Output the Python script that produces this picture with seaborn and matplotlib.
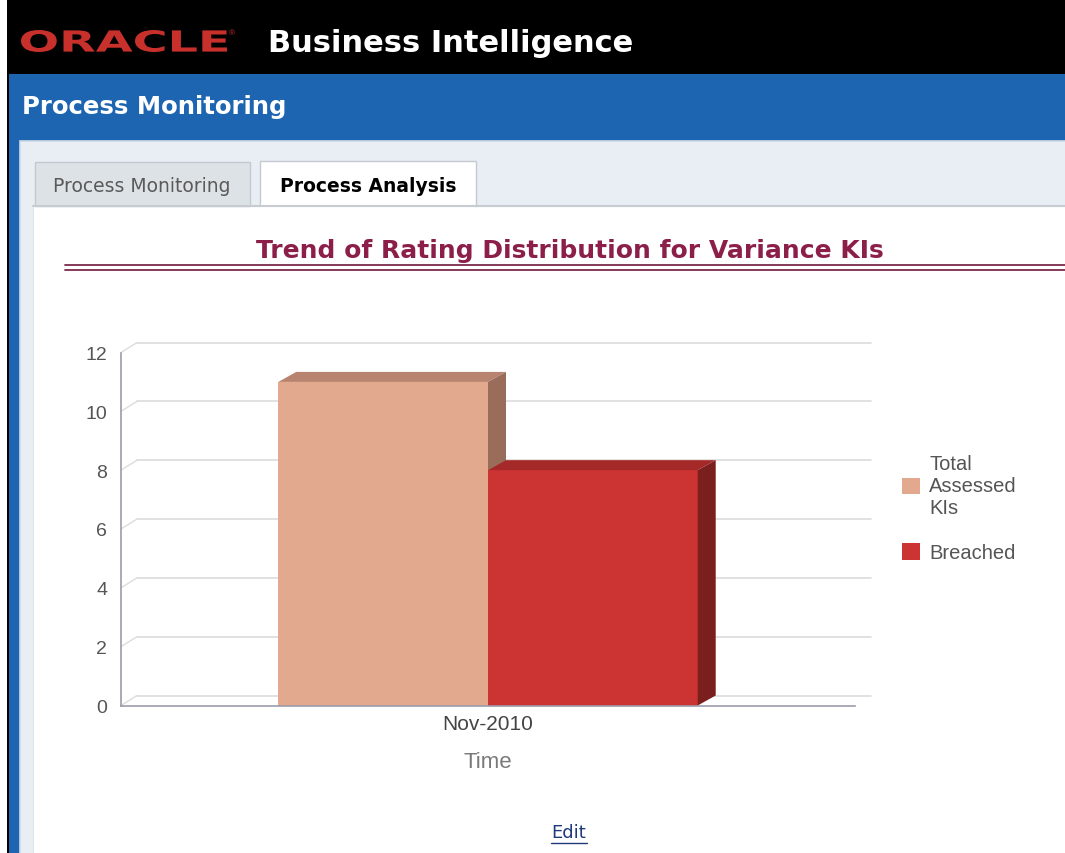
import textwrap

import matplotlib
matplotlib.use("Agg")
import matplotlib.pyplot as plt
import pandas as pd
import seaborn as sns
from matplotlib.font_manager import FontProperties
from matplotlib.lines import Line2D
from matplotlib.patches import PathPatch, Polygon, Rectangle
from matplotlib.textpath import TextPath
from matplotlib.transforms import Affine2D, ScaledTranslation

# ---- data -------------------------------------------------------------
periods = ["Nov-2010"]
series = ["Total Assessed KIs", "Breached"]
values = [11, 8]
y_ticks = [0, 2, 4, 6, 8, 10, 12]

# ---- styling ----------------------------------------------------------
front_colors = ["#E3A98F", "#CC3333"]
top_colors = ["#B8836F", "#A62929"]
side_colors = ["#9A6C5A", "#7A1E1E"]

W, H, DPI = 1065, 854, 100

sns.set_theme(style="white")
plt.rcParams["font.family"] = ["Liberation Sans", "DejaVu Sans"]

fig = plt.figure(figsize=(W / DPI, H / DPI), dpi=DPI)
fig.patch.set_facecolor("white")


def fx(px):
    return px / W


def fy(py):
    return 1 - py / H


def rect(x0, y0, x1, y1, **kw):
    r = Rectangle((fx(x0), fy(y1)), fx(x1) - fx(x0), fy(y0) - fy(y1),
                  transform=fig.transFigure, zorder=-5, **kw)
    fig.add_artist(r)
    return r


def hline(x0, x1, y, **kw):
    fig.add_artist(Line2D([fx(x0), fx(x1)], [fy(y), fy(y)],
                          transform=fig.transFigure, **kw))


# ---- page chrome ------------------------------------------------------
rect(7, 0, W, 75, fc="black", ec="none")
rect(7, 0, 9, H, fc="black", ec="none")
rect(9, 75, W, H, fc="#1d65b1", ec="none")
rect(20, 142, W + 5, H + 5, fc="#e9eef4", ec="#cddae6", lw=1.2)
rect(33, 207, W + 5, H + 5, fc="white", ec="#dde4ec", lw=0.8)
hline(33, W, 207, color="#c6ccd2", lw=1.5)

# tabs
rect(35, 163, 250, 207, fc="#dde2e7", ec="#c3c9cf", lw=1.0)
rect(260, 162, 476, 207, fc="white", ec="#c3c9cf", lw=1.0)
rect(261, 204, 475, 210, fc="white", ec="none")

# Oracle wordmark, stretched horizontally
fp = FontProperties(family="DejaVu Sans", weight="bold")
tp = TextPath((0, 0), "ORACLE", size=1, prop=fp)
ext = tp.get_extents()
sx, sy = 206 / ext.width, 22 / ext.height
logo_tr = (Affine2D().translate(-ext.x0, -ext.y0)
           .scale(sx / DPI, sy / DPI)
           .translate(21 / DPI, (H - 53) / DPI) + fig.dpi_scale_trans)
fig.add_artist(PathPatch(tp, transform=logo_tr, fc="#c8302c", ec="none"))
fig.text(fx(229), fy(34), "®", color="#c8302c", fontsize=6, ha="left", va="center")

fig.text(fx(268), fy(43), "Business Intelligence", color="white",
         fontsize=22, weight="bold", family="DejaVu Sans", ha="left", va="center")
fig.text(fx(22), fy(107), "Process Monitoring", color="white",
         fontsize=17.6, weight="bold", family="DejaVu Sans", ha="left", va="center")
fig.text(fx(142), fy(187), "Process Monitoring", color="#5a5a5a",
         fontsize=13.5, family="DejaVu Sans", ha="center", va="center")
fig.text(fx(368), fy(187), "Process Analysis", color="black",
         fontsize=13.5, weight="bold", family="DejaVu Sans", ha="center", va="center")

# report title with double rule
fig.text(fx(570), fy(251), "Trend of Rating Distribution for Variance KIs",
         color="#8c1f4a", fontsize=18, weight="bold", family="DejaVu Sans",
         ha="center", va="center")
hline(65, W, 266, color="#7b2b4c", lw=1.3)
hline(65, W, 271, color="#7b2b4c", lw=1.3)

# ---- chart ------------------------------------------------------------
ax_l, ax_r, ax_t, ax_b = 121, 855, 353.5, 706.5
ax = fig.add_axes([fx(ax_l), fy(ax_b), fx(ax_r) - fx(ax_l), fy(ax_t) - fy(ax_b)])
ax.set_facecolor("none")
ax.set_zorder(5)

df = pd.DataFrame({
    "Time": [p for p in periods for _ in series],
    "Series": series * len(periods),
    "Count": values,
})
sns.barplot(data=df, x="Time", y="Count", hue="Series", hue_order=series,
            palette=front_colors, saturation=1, width=0.8, linewidth=0,
            legend=False, ax=ax)

x_lo, x_hi = -0.7, 0.7
ax.set_xlim(x_lo, x_hi)
ax.set_ylim(y_ticks[0], y_ticks[-1])

px_per_x = (ax_r - ax_l) / (x_hi - x_lo)
px_per_y = (ax_b - ax_t) / (y_ticks[-1] - y_ticks[0])

# back wall grid, shifted up and to the right for the 3D look
wall_dx_px, wall_dy_px = 16, 10
wall_off = ScaledTranslation(wall_dx_px / DPI, wall_dy_px / DPI, fig.dpi_scale_trans)
wall_tr = ax.get_yaxis_transform() + wall_off
for v in y_ticks:
    ax.plot([0, 1], [v, v], transform=wall_tr, color="#dcdcdc", lw=1.2,
            zorder=0.5, clip_on=False)
    ax.plot([x_lo, x_lo + wall_dx_px / px_per_x], [v, v + wall_dy_px / px_per_y],
            color="#dcdcdc", lw=1.0, zorder=0.5, clip_on=False)

# extruded bar faces
dx, dy = 18 / px_per_x, 10 / px_per_y
bars = [p for p in ax.patches if isinstance(p, Rectangle)]
for i, p in enumerate(bars):
    x0, w, h = p.get_x(), p.get_width(), p.get_height()
    z = 3 + i
    p.set_zorder(z)
    ax.add_patch(Polygon([(x0, h), (x0 + w, h), (x0 + w + dx, h + dy), (x0 + dx, h + dy)],
                         closed=True, fc=top_colors[i], ec="none", zorder=z, clip_on=False))
    ax.add_patch(Polygon([(x0 + w, 0), (x0 + w, h), (x0 + w + dx, h + dy), (x0 + w + dx, dy)],
                         closed=True, fc=side_colors[i], ec="none", zorder=z, clip_on=False))

for side in ["top", "right"]:
    ax.spines[side].set_visible(False)
for side in ["left", "bottom"]:
    ax.spines[side].set_color("#9c9caa")
    ax.spines[side].set_linewidth(1.2)
    ax.spines[side].set_zorder(6)

ax.set_yticks(y_ticks)
ax.tick_params(axis="y", length=0, pad=10, labelsize=14, labelcolor="#555555")
ax.tick_params(axis="x", length=0, pad=6, labelsize=15, labelcolor="#444444")
ax.set_ylabel("")
ax.set_xlabel("Time", fontsize=16, color="#7a7a7a", labelpad=13)

handles = [Rectangle((0, 0), 1, 1, fc=c, ec="none") for c in front_colors]
labels = [textwrap.fill(s, 8) for s in series]
ax.legend(handles, labels, loc="upper left", bbox_to_anchor=(fx(902), fy(455)),
          bbox_transform=fig.transFigure, frameon=False, fontsize=14.5,
          labelcolor="#555555", handlelength=0.9, handleheight=0.9,
          handletextpad=0.45, labelspacing=1.3, borderpad=0, borderaxespad=0)

# edit link
fig.text(fx(569), fy(833), "Edit", color="#1f3a78", fontsize=13,
         family="DejaVu Sans", ha="center", va="center")
hline(551, 587, 844, color="#1f3a78", lw=1.0)

fig.savefig("out.png", dpi=DPI, facecolor=fig.get_facecolor())
